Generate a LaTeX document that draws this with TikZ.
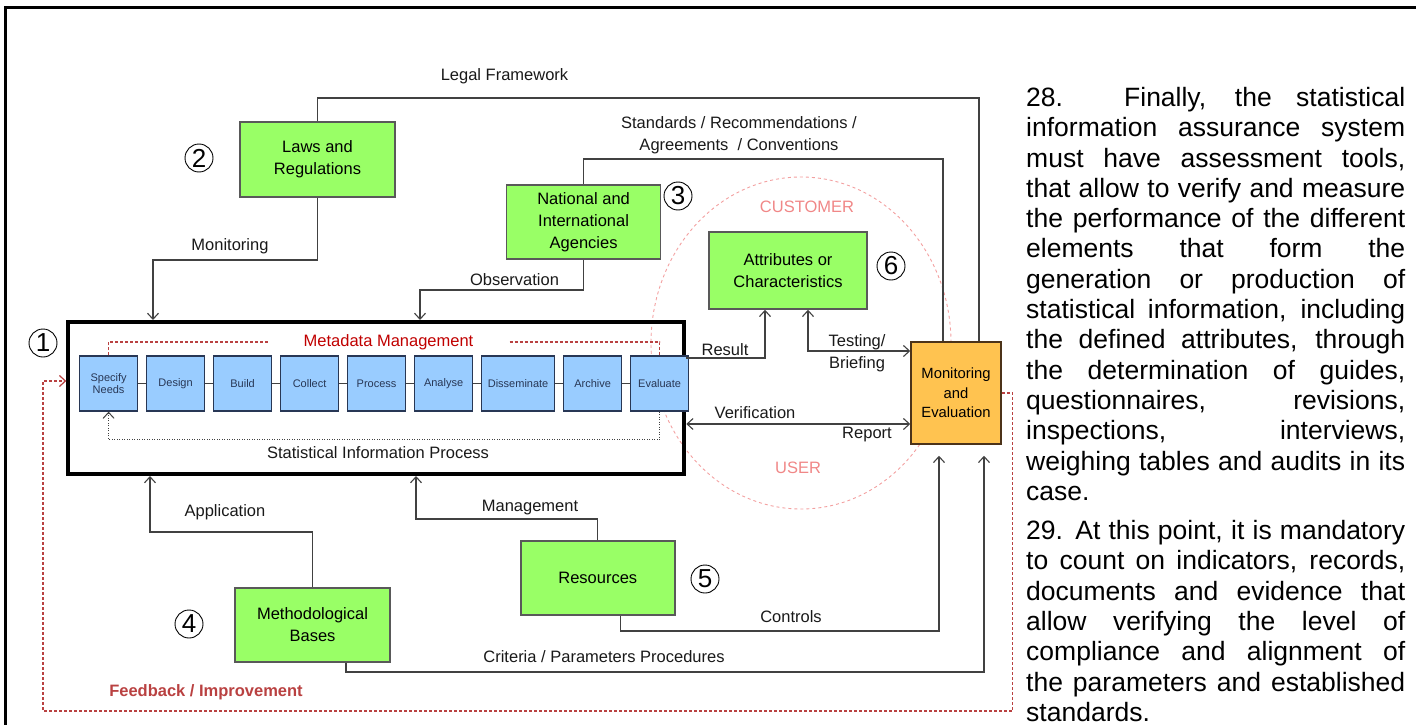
\documentclass[tikz,border=0pt]{standalone}
\usepackage{fontspec}
\setmainfont{Liberation Sans}
\usetikzlibrary{positioning,arrows.meta}
\definecolor{lgreen}{RGB}{153,255,102}
\definecolor{lblue}{RGB}{153,204,255}
\definecolor{morange}{RGB}{255,195,80}
\definecolor{metared}{RGB}{192,0,0}
\definecolor{fbred}{RGB}{185,65,65}
\definecolor{custpink}{RGB}{240,135,135}
\definecolor{lnk}{RGB}{65,65,65}
\definecolor{navy}{RGB}{40,55,85}

\begin{document}
\begin{tikzpicture}[x=1pt,y=1pt,yscale=-1,
  lbl/.style={font=\fontsize{16.5}{22}\selectfont, inner sep=0pt, align=center, text=black!90},
  gbox/.style={draw=black!65, line width=1.5pt, fill=lgreen, minimum width=155pt, minimum height=75pt, inner sep=0pt, align=center, font=\fontsize{16.5}{22}\selectfont},
  bbox/.style={draw=navy, line width=1.3pt, fill=lblue, minimum width=58pt, minimum height=55pt, inner sep=0pt, align=center, text=navy, font=\fontsize{11}{12.7}\selectfont},
  num/.style={circle, draw, line width=0.9pt, minimum size=28pt, inner sep=0pt, font=\fontsize{26}{26}\selectfont},
  conn/.style={draw=lnk, line width=1.1pt},
  fb/.style={draw=fbred, line width=1.2pt, dash pattern=on 3pt off 2pt},
  >={Straight Barb[length=6pt,width=11pt]}
]
\useasboundingbox (0,0) rectangle (1416,725);

%Frame
\draw[line width=3pt] (5.5,725) -- (5.5,8) -- (1416,8);

%Shape: Ellipse (customer / user)
\draw[custpink!80, line width=0.9pt, dash pattern=on 3pt off 3pt] (801,343) ellipse [x radius=150, y radius=166];

%Statistical information process
\node[draw=black, line width=4pt, minimum width=616pt, minimum height=152pt, inner sep=0pt] (sip) at (376.3,398) {};
\node[bbox] (sn) at (108.6,383.5) {Specify\\Needs};
\node[bbox, right=7.7pt of sn] (de) {Design};
\node[bbox, right=7.7pt of de] (bu) {Build};
\node[bbox, right=7.7pt of bu] (co) {Collect};
\node[bbox, right=7.7pt of co] (pr) {Process};
\node[bbox, right=7.7pt of pr] (an) {Analyse};
\node[bbox, right=7.7pt of an, minimum width=73pt] (di) {Disseminate};
\node[bbox, right=7.7pt of di] (ar) {Archive};
\node[bbox, right=7.7pt of ar] (ev) {Evaluate};
\foreach \a/\b in {sn/de,de/bu,bu/co,co/pr,pr/an,an/di,di/ar,ar/ev}
  \draw[conn] (\a.east) -- (\b.west);

% Text Node
\node[lbl, text=metared] (meta) at (388.5,342) {Metadata Management};
\node[lbl] (sipl) at (378,453) {Statistical Information Process};
\draw[fb] (sn.north) |- ([xshift=-34pt]meta.west);
\draw[fb] ([xshift=36pt]meta.east) -| (ev.north);
\draw[draw=lnk, line width=1pt, dash pattern=on 1pt off 1.5pt, ->] (ev.south) -- ++(0,28) -| (sn.south);

%Boxes
\node[gbox] (laws) at (317.5,159.5) {Laws and\\Regulations};
\node[gbox, minimum width=154pt, minimum height=74pt] (natl) at (583.6,222) {National and\\International\\Agencies};
\node[gbox, minimum width=158pt, minimum height=77pt] (attr) at (788,270.5) {Attributes or\\Characteristics};
\node[gbox, minimum width=154pt, minimum height=74pt] (res) at (597.8,578) {Resources};
\node[gbox, minimum height=74pt] (meth) at (312.5,625) {Methodological\\Bases};
\node[draw=black!60!brown, line width=1.5pt, fill=morange, minimum width=90pt, minimum height=102pt, inner sep=0pt, align=center, font=\fontsize{14.8}{19.5}\selectfont] (monit) at (956,393) {Monitoring\\and\\Evaluation};

%Numbers
\node[num] (n1) at (43,343) {1};
\node[num] (n2) at (199,158) {2};
\node[num] (n3) at (678,196) {3};
\node[num] (n4) at (189,624) {4};
\node[num] (n5) at (705,579) {5};
\node[num] (n6) at (891,266) {6};

%Connectors
\draw[conn] (laws.north) |- (979,98) -- (monit.north -| 979,0);
\draw[conn] (natl.north) |- (943,159) -- (monit.north -| 943,0);
\draw[conn,->] (laws.south) |- (153,260) -- (sip.north -| 153,0);
\draw[conn,->] (natl.south) |- (420,290) -- (sip.north -| 420,0);
\draw[conn,->] (sip.east |- 0,358) -| (attr.south -| 765,0);
\draw[conn,<->] (attr.south -| 808,0) |- (monit.west |- 0,351);
\draw[conn,<->] (sip.east |- 0,424) -- (monit.west |- 0,424);
\draw[conn,->] (meth.north) |- (150,532) -- (sip.south -| 150,0);
\draw[conn,->] (res.north) |- (416,519) -- (sip.south -| 416,0);
\draw[conn,->, shorten >=11pt] (res.south -| 620.5,0) |- (939,631) -- (monit.south -| 939,0);
\draw[conn,->, shorten >=11pt] (meth.south -| 346,0) |- (984,672) -- (monit.south -| 984,0);
\draw[fb,->] (monit.east) -- ++(11,0) |- (43,711) |- (sip.west |- 0,381);

% Text Node
\node[lbl] (legal) at (504.5,76) {Legal Framework};
\node[lbl] (monl) at (230,246) {Monitoring};
\node[lbl] (obs) at (514.5,280) {Observation};
\node[lbl] (std) at (739,135) {Standards / Recommendations /\\Agreements\ \ / Conventions};
\node[lbl, text=custpink] (cust) at (807,207) {CUSTOMER};
\node[lbl, text=custpink] (user) at (798,468) {USER};
\node[lbl] (resl) at (725,350) {Result};
\node[lbl] (test) at (857,353) {Testing/\\Briefing};
\node[lbl] (verl) at (755,413) {Verification};
\node[lbl] (repl) at (867,435) {Report};
\node[lbl] (appl) at (225,512) {Application};
\node[lbl] (manl) at (530,508) {Management};
\node[lbl] (ctll) at (791,617) {Controls};
\node[lbl] (crit) at (604,657) {Criteria / Parameters Procedures};
\node[lbl, text=fbred, font=\fontsize{16.5}{22}\selectfont\bfseries] (fbl) at (206,692) {Feedback / Improvement};

%Paragraphs
\node[anchor=base west, text width=379pt, align=justify, inner sep=0pt, font=\fontsize{26.5}{30.3}\selectfont] (p28) at (1026,106.5)
  {\tolerance=10000 \hyphenpenalty=10000 28. Finally, the statistical\linebreak information assurance system\linebreak must have assessment tools,\linebreak that allow to verify and measure\linebreak the performance of the different\linebreak elements that form the\linebreak generation or production of\linebreak statistical information, including\linebreak the defined attributes, through\linebreak the determination of guides,\linebreak questionnaires, revisions,\linebreak inspections, interviews,\linebreak weighing tables and audits in its\linebreak case.};
\node[anchor=base west, text width=379pt, align=justify, inner sep=0pt, font=\fontsize{26.5}{30.3}\selectfont] (p29) at (1026,539.5)
  {\tolerance=10000 \hyphenpenalty=10000 29. At this point, it is mandatory\linebreak to count on indicators, records,\linebreak documents and evidence that\linebreak allow verifying the level of\linebreak compliance and alignment of\linebreak the parameters and established\linebreak standards.};
\end{tikzpicture}
\end{document}
